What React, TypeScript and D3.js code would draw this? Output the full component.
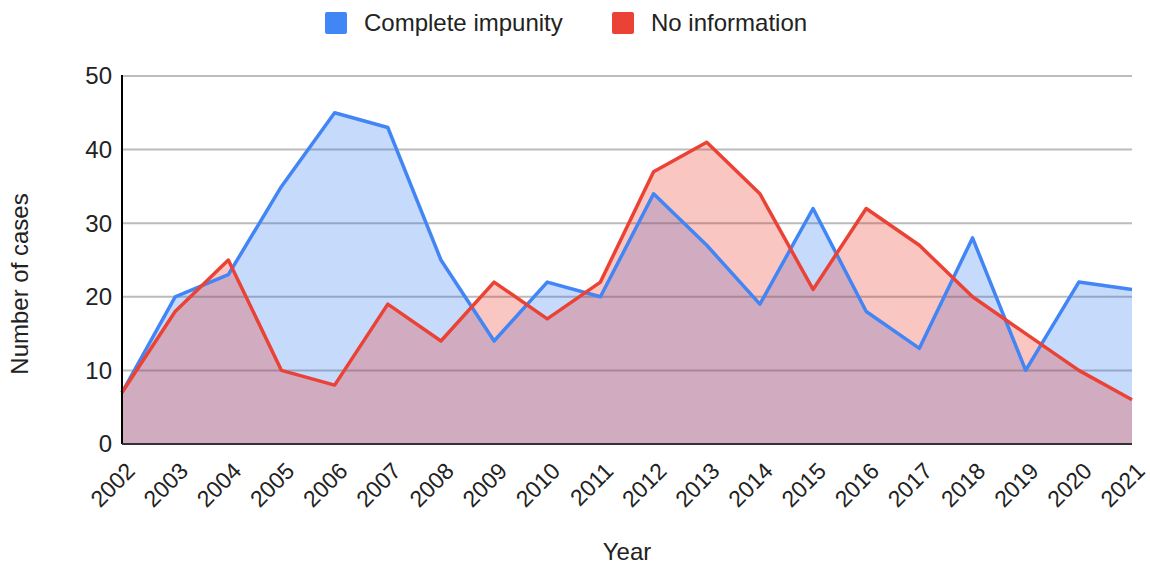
import React from "react";
import * as d3 from "d3";

const years = ["2002","2003","2004","2005","2006","2007","2008","2009","2010","2011","2012","2013","2014","2015","2016","2017","2018","2019","2020","2021"];
const completeImpunity = [7,20,23,35,45,43,25,14,22,20,34,27,19,32,18,13,28,10,22,21];
const noInformation = [7,18,25,10,8,19,14,22,17,22,37,41,34,21,32,27,20,15,10,6];
const yTicks = [0,10,20,30,40,50];

const W = 1150, H = 566;
const left = 122, right = 1132, top = 76, bottom = 444;
const FONT = "'Liberation Sans', Arial, sans-serif";
const BLUE = "#4285F4", RED = "#EA4335";

export default function App() {
  const x = d3.scalePoint<string>().domain(years).range([left, right]);
  const y = d3.scaleLinear().domain([0, 50]).range([bottom, top]);
  const line = d3.line<number>().x((_, i) => x(years[i])!).y(d => y(d));
  const area = d3.area<number>().x((_, i) => x(years[i])!).y0(y(0)).y1(d => y(d));
  const series = [
    { name: "Complete impunity", values: completeImpunity, color: BLUE },
    { name: "No information", values: noInformation, color: RED },
  ];
  return (
    <svg width={W} height={H} style={{ position: "absolute", left: 0, top: 0, background: "#fff" }} fontFamily={FONT}>
      {yTicks.map(t => t > 0 && (
        <line key={"g" + t} x1={left} x2={right} y1={y(t)} y2={y(t)} stroke="#cccccc" strokeWidth={2} />
      ))}
      {series.map(s => (
        <path key={"a" + s.name} d={area(s.values)!} fill={s.color} fillOpacity={0.3} />
      ))}
      {yTicks.map(t => t > 0 && (
        <line key={"g2" + t} x1={left} x2={right} y1={y(t)} y2={y(t)} stroke="#000" strokeOpacity={0.08} strokeWidth={2} />
      ))}
      {series.map(s => (
        <path key={"l" + s.name} d={line(s.values)!} fill="none" stroke={s.color} strokeWidth={3.5} strokeLinejoin="round" />
      ))}
      <line x1={left} x2={left} y1={top - 1} y2={bottom} stroke="#000" strokeWidth={2} />
      <line x1={left} x2={right} y1={bottom} y2={bottom} stroke="#333" strokeWidth={2} />
      {yTicks.map(t => (
        <text key={"t" + t} x={112} y={y(t)} dy="0.35em" textAnchor="end" fontSize={24} fill="#222">{t}</text>
      ))}
      {years.map(yr => (
        <text key={"x" + yr} transform={`translate(${x(yr)! + 3},${bottom + 17}) rotate(-45)`} textAnchor="end" dy="0.7em" fontSize={23} fill="#222">{yr}</text>
      ))}
      <text x={(left + right) / 2} y={560} textAnchor="middle" fontSize={24} fill="#222">Year</text>
      <text transform={`translate(28,284) rotate(-90)`} textAnchor="middle" fontSize={24} fill="#222">Number of cases</text>
      <rect x={325} y={12} width={22} height={22} rx={2} fill={BLUE} />
      <text x={364} y={23} dy="0.35em" fontSize={24} fill="#222">Complete impunity</text>
      <rect x={612} y={12} width={22} height={22} rx={2} fill={RED} />
      <text x={651} y={23} dy="0.35em" fontSize={24} fill="#222">No information</text>
    </svg>
  );
}
